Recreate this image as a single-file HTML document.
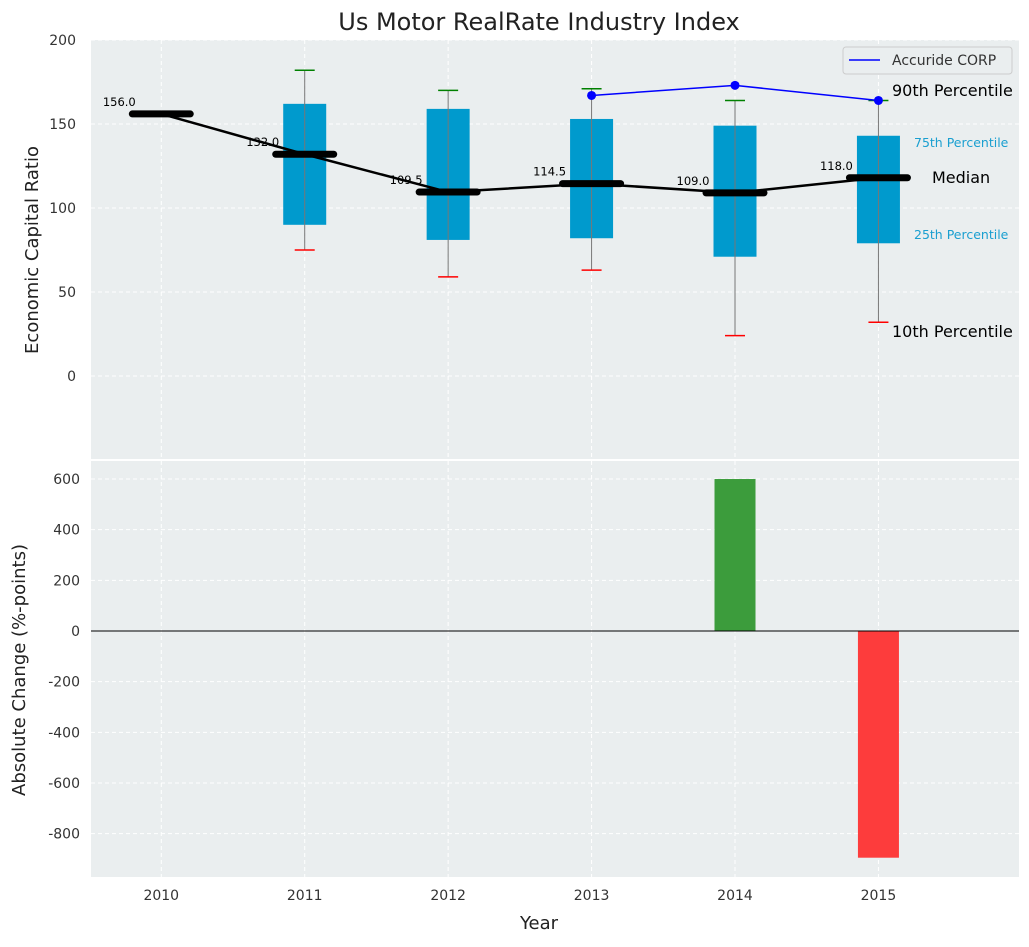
<!DOCTYPE html>
<html><head><meta charset="utf-8"><style>
body{margin:0;background:#fff;font-family:"Liberation Sans","DejaVu Sans",sans-serif}
svg text{font-family:"DejaVu Sans","Liberation Sans",sans-serif}
</style></head><body>
<svg id="c" width="1029" height="942" xmlns="http://www.w3.org/2000/svg"></svg>
<script>
const years=[2010,2011,2012,2013,2014,2015];
const medians=[156,132,109.5,114.5,109,118];
const q25=[null,90,81,82,71,79];
const q75=[null,162,159,153,149,143];
const p10=[null,75,59,63,24,32];
const p90=[null,182,170,171,164,164];
const companyYears=[2013,2014,2015];
const companyVals=[167,173,164];
const changeYears=[2014,2015];
const changeVals=[600,-895];
const topTicks=[0,50,100,150,200];
const botTicks=[-800,-600,-400,-200,0,200,400,600];

const NS="http://www.w3.org/2000/svg";
const svg=document.getElementById('c');
function el(t,a,p){const e=document.createElementNS(NS,t);for(const k in a)e.setAttribute(k,a[k]);(p||svg).appendChild(e);return e;}
const L=91,R=1019;
const x=v=>L+(v-2009.51)*(R-L)/(2015.98-2009.51);
const T0=40,T1=459,yT=v=>376-(v)*1.68;
const B0=461,B1=877,yB=v=>631-v*0.2533;

// title
let t=el('text',{x:539,y:30,'text-anchor':'middle','font-size':24,fill:'#222'});t.textContent='Us Motor RealRate Industry Index';


// panels
let p=el('rect',{x:L,y:T0,width:R-L,height:T1-T0,fill:'#eaeeef'});

p=el('rect',{x:L,y:B0,width:R-L,height:B1-B0,fill:'#eaeeef'});


// grids
years.forEach(yr=>{
  el('line',{x1:x(yr),x2:x(yr),y1:T0,y2:T1,stroke:'#fff','stroke-dasharray':'4,3'});
  el('line',{x1:x(yr),x2:x(yr),y1:B0,y2:B1,stroke:'#fff','stroke-dasharray':'4,3'});
  let tx=el('text',{x:x(yr),y:900,'text-anchor':'middle','font-size':14,fill:'#333'});tx.textContent=yr;
  
});
topTicks.forEach(v=>{
  el('line',{x1:L,x2:R,y1:yT(v),y2:yT(v),stroke:'#fff','stroke-dasharray':'4,3'});
  let tx=el('text',{x:76,y:yT(v)+5,'text-anchor':'end','font-size':14,fill:'#333'});tx.textContent=v;
  
});
botTicks.forEach(v=>{
  el('line',{x1:L,x2:R,y1:yB(v),y2:yB(v),stroke:'#fff','stroke-dasharray':'4,3'});
  let tx=el('text',{x:80,y:yB(v)+5,'text-anchor':'end','font-size':14,fill:'#333'});tx.textContent=v;
  
});

// boxes
const bw=0.3*(x(1)-x(0));
years.forEach((yr,i)=>{
  if(q25[i]==null)return;
  const cx=x(yr);
  let b=el('rect',{x:cx-21.5,y:yT(q75[i]),width:43,height:yT(q25[i])-yT(q75[i]),fill:'#009acd'});
  
  el('line',{x1:cx,x2:cx,y1:yT(p90[i]),y2:yT(p10[i]),stroke:'#777','stroke-width':1});
  let c=el('line',{x1:cx-10,x2:cx+10,y1:yT(p90[i]),y2:yT(p90[i]),stroke:'green','stroke-width':1.5});
  
  c=el('line',{x1:cx-10,x2:cx+10,y1:yT(p10[i]),y2:yT(p10[i]),stroke:'red','stroke-width':1.5});
  
});
// median line
let ml=el('polyline',{points:years.map((yr,i)=>x(yr)+','+yT(medians[i])).join(' '),fill:'none',stroke:'#000','stroke-width':2.5});

years.forEach((yr,i)=>{
  const cx=x(yr);
  let m=el('line',{x1:cx-29,x2:cx+29,y1:yT(medians[i]),y2:yT(medians[i]),stroke:'#000','stroke-width':7,'stroke-linecap':'round'});
  
  let tx=el('text',{x:cx-42,y:yT(medians[i])-8,'text-anchor':'middle','font-size':11.5,fill:'#000'});tx.textContent=medians[i].toFixed(1);
  
});
// company
let cl=el('polyline',{points:companyYears.map((yr,i)=>x(yr)+','+yT(companyVals[i])).join(' '),fill:'none',stroke:'blue','stroke-width':1.5});

companyYears.forEach((yr,i)=>{let d=el('circle',{cx:x(yr),cy:yT(companyVals[i]),r:4.5,fill:'blue'});
});

// annotations
const ann=[[892,96,'90th Percentile',16,'#000'],[914,147,'75th Percentile',12.5,'#1a9fd0'],[932,183,'Median',16,'#000'],[914,239,'25th Percentile',12.5,'#1a9fd0'],[892,337,'10th Percentile',16,'#000']];
ann.forEach(a=>{let tx=el('text',{x:a[0],y:a[1],'font-size':a[3],fill:a[4]});tx.textContent=a[2];
});

// legend
let lg=el('g',{});
el('rect',{x:843,y:47,width:169,height:27,rx:3,fill:'#eaeeef',stroke:'#ccc'},lg);
el('line',{x1:849,x2:880,y1:60,y2:60,stroke:'blue','stroke-width':1.5},lg);
let lt=el('text',{x:892,y:65,'font-size':14,fill:'#333'},lg);lt.textContent='Accuride CORP';

// bars
changeYears.forEach((yr,i)=>{const v=changeVals[i];
  let b=el('rect',{x:x(yr)-20.5,y:Math.min(yB(v),yB(0)),width:41,height:Math.abs(yB(v)-yB(0)),fill:v>=0?'#3c9c3c':'#fd3c3c'});
  });
el('line',{x1:L,x2:R,y1:yB(0),y2:yB(0),stroke:'#000','stroke-width':1});

// axis titles
t=el('text',{x:539,y:929,'text-anchor':'middle','font-size':18,fill:'#222'});t.textContent='Year';

t=el('text',{x:0,y:0,'text-anchor':'middle','font-size':18,fill:'#222',transform:'translate(38,250) rotate(-90)'});t.textContent='Economic Capital Ratio';

t=el('text',{x:0,y:0,'text-anchor':'middle','font-size':18,fill:'#222',transform:'translate(25,670) rotate(-90)'});t.textContent='Absolute Change (%-points)';

</script>
</body></html>
